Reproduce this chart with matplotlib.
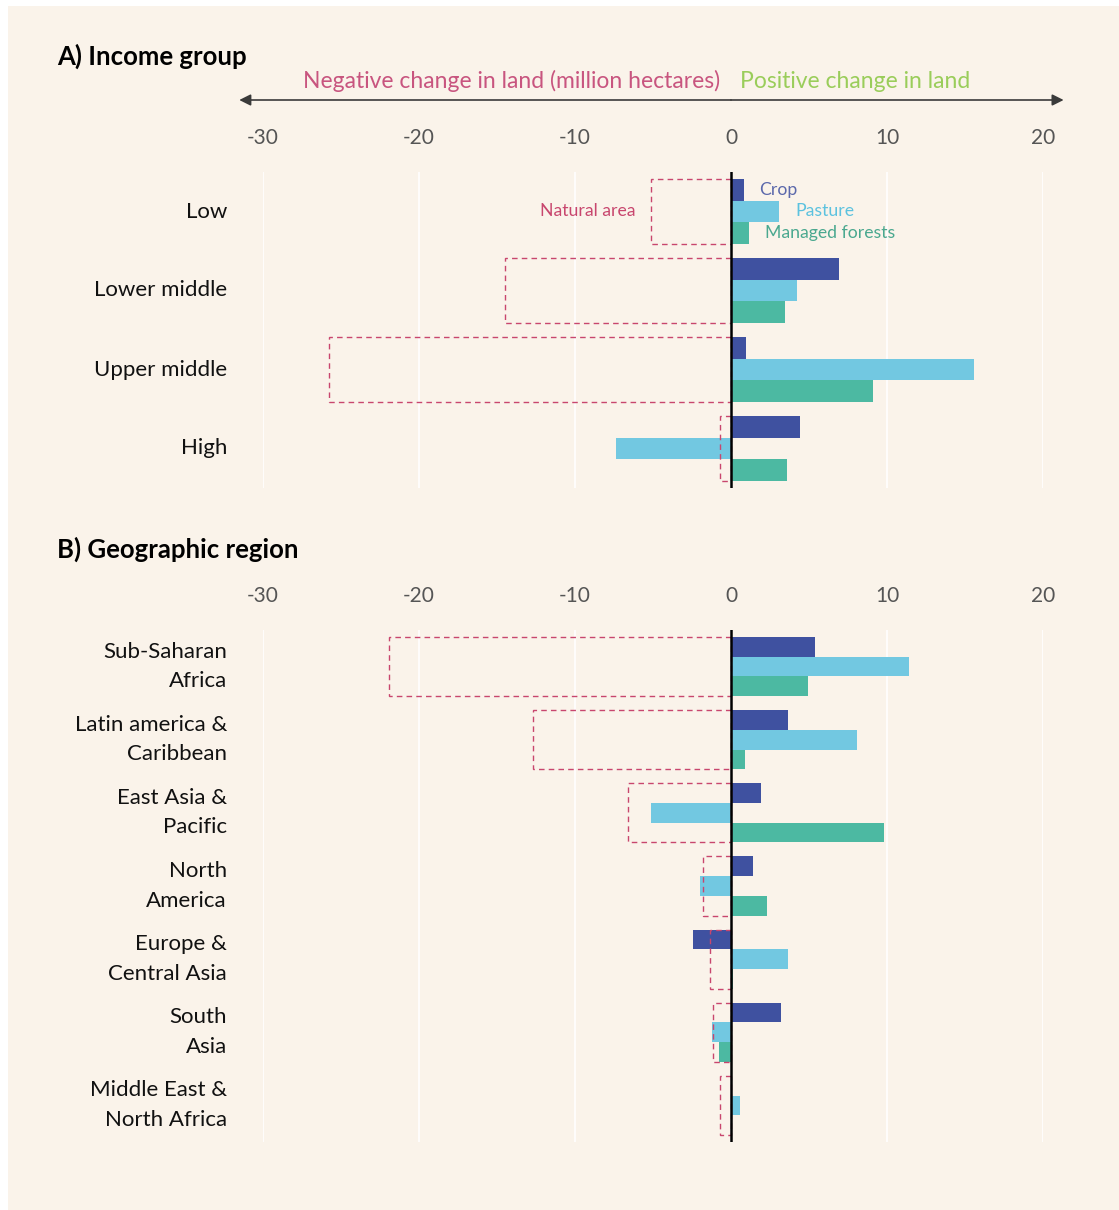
import matplotlib.pyplot as plt
from matplotlib.patches import Rectangle
from matplotlib.transforms import ScaledTranslation

plt.rcParams["font.family"] = ["Lato", "DejaVu Sans"]

# data (million hectares)
income_groups = ["Low", "Lower middle", "Upper middle", "High"]
income_crop = [0.85, 6.9, 0.95, 4.4]
income_pasture = [3.1, 4.2, 15.6, -7.4]
income_forest = [1.15, 3.45, 9.1, 3.6]
income_natural = [-5.1, -14.5, -25.8, -0.7]

regions = ["Sub-Saharan\nAfrica", "Latin america &\nCaribbean", "East Asia &\nPacific",
           "North\nAmerica", "Europe &\nCentral Asia", "South\nAsia",
           "Middle East &\nNorth Africa"]
region_crop = [5.4, 3.65, 1.9, 1.4, -2.45, 3.2, 0.0]
region_pasture = [11.4, 8.1, -5.1, -2.0, 3.65, -1.2, 0.6]
region_forest = [4.95, 0.9, 9.8, 2.3, 0.15, -0.8, 0.0]
region_natural = [-21.9, -12.7, -6.6, -1.8, -1.35, -1.15, -0.7]

ticks = [-30, -20, -10, 0, 10, 20]

CREAM = "#faf3ea"
CROP = "#3f51a0"
PASTURE = "#72c8e1"
FOREST = "#4cb9a2"
NATURAL = "#c8466e"

W, H = 1119, 1210
fig = plt.figure(figsize=(W / 100, H / 100), dpi=100, facecolor="white")
fig.patches.append(Rectangle((8 / W, 0), 1, 1 - 6 / H, transform=fig.transFigure,
                             facecolor=CREAM, edgecolor="none", zorder=-10))


def px_axes(left, top, right, bottom):
    return fig.add_axes([left / W, 1 - bottom / H, (right - left) / W, (bottom - top) / H])


def draw_panel(ax, labels, crop, pasture, forest, natural, h, label_shift):
    ypos = list(range(len(labels)))
    ax.set_facecolor("none")
    for s in ax.spines.values():
        s.set_visible(False)
    for t in ticks:
        ax.axvline(t, color="white", lw=1.2, zorder=0)
    ax.barh([y - h for y in ypos], crop, height=h, color=CROP, zorder=2)
    ax.barh(ypos, pasture, height=h, color=PASTURE, zorder=2)
    ax.barh([y + h for y in ypos], forest, height=h, color=FOREST, zorder=2)
    ax.barh(ypos, natural, height=3 * h, fill=False, edgecolor=NATURAL,
            linestyle=(0, (4, 3)), lw=1.0, zorder=3)
    ax.axvline(0, color="black", lw=1.8, zorder=4)
    ax.set_xlim(-30, 20)
    ax.set_ylim(len(labels) - 0.5, -0.5)
    ax.xaxis.tick_top()
    ax.set_xticks(ticks)
    ax.set_xticklabels([str(t) for t in ticks], fontsize=15, color="#555555")
    ax.tick_params(axis="x", length=0, pad=17)
    ax.set_yticks(ypos)
    ax.set_yticklabels(labels, fontsize=16, color="#111111", linespacing=1.6)
    ax.tick_params(axis="y", length=0, pad=26)
    shift = ScaledTranslation(0, label_shift / 100, fig.dpi_scale_trans)
    for lab in ax.get_yticklabels():
        lab.set_transform(lab.get_transform() + shift)


# A) income group
axA = px_axes(263, 172, 1043, 488)
hA = 0.272
draw_panel(axA, income_groups, income_crop, income_pasture, income_forest,
           income_natural, hA, 2)
axA.text(income_crop[0] + 0.95, -hA, "Crop", color="#5b68ab", fontsize=12.7, va="center")
axA.text(income_pasture[0] + 1.0, 0, "Pasture", color="#5cc2df", fontsize=12.7,
         va="center")
axA.text(income_forest[0] + 1.0, hA, "Managed forests", color="#4aa88f", fontsize=12.7,
         va="center")
axA.text(income_natural[0] - 1.0, 0, "Natural area", color=NATURAL, fontsize=12.7,
         va="center", ha="right")

# direction arrow above panel A (axes height 316 px, bottom at 488 px)
arrow_y = (488 - 100) / 316
text_y = (488 - 81) / 316
for end in (-31.7, 21.5):
    axA.annotate("", xy=(end, arrow_y), xytext=(0, arrow_y),
                 xycoords=("data", "axes fraction"),
                 arrowprops=dict(arrowstyle="-|>", color="#3a3a3a", lw=1.2,
                                 mutation_scale=17, shrinkA=0))
axA.text(-0.7, text_y, "Negative change in land (million hectares)", color="#c8557f",
         fontsize=16.5, ha="right", va="center", transform=axA.get_xaxis_transform())
axA.text(0.6, text_y, "Positive change in land", color="#9acd5a", fontsize=16.5,
         ha="left", va="center", transform=axA.get_xaxis_transform())

fig.text(57 / W, 1 - 56 / H, "A) Income group", fontsize=18.5, fontweight="bold",
         va="center", ha="left")

# B) geographic region
axB = px_axes(263, 630, 1043, 1142)
hB = 0.27
draw_panel(axB, regions, region_crop, region_pasture, region_forest, region_natural,
           hB, 7)
fig.text(57 / W, 1 - 549 / H, "B) Geographic region", fontsize=18.5, fontweight="bold",
         va="center", ha="left")

fig.savefig("out.png", dpi=100, facecolor="white")
